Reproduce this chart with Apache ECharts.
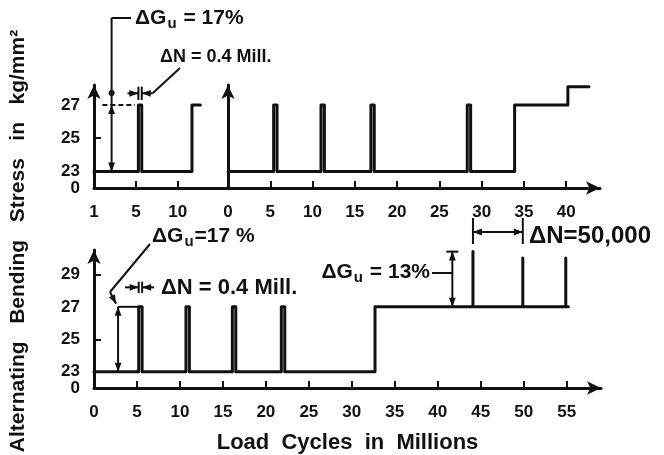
<!DOCTYPE html>
<html>
<head>
<meta charset="utf-8">
<script src="https://cdn.jsdelivr.net/npm/echarts@6/dist/echarts.min.js"></script>
<style>html,body{margin:0;background:#fff}#main{width:664px;height:455px}</style>
</head>
<body>
<div id="main"></div>
<script>
/* alternating bending stress vs load cycles, three test runs */

// data: stress steps (kg/mm2) against load cycles (millions)
const leftN = [0, 5.3, 5.3, 5.7, 5.7, 11.7, 11.7, 12.7];
const leftS = [23, 23, 27, 27, 23, 23, 27, 27];

const rightN = [0, 5.4, 5.4, 5.8, 5.8, 11.0, 11.0, 11.4, 11.4, 16.9, 16.9, 17.3, 17.3,
    28.3, 28.3, 28.7, 28.7, 33.9, 33.9, 40.2, 40.2, 42.7];
const rightS = [23, 23, 27, 27, 23, 23, 27, 27, 23, 23, 27, 27, 23,
    23, 27, 27, 23, 23, 27, 27, 28.1, 28.1];

const bottomN = [0, 5.2, 5.2, 5.6, 5.6, 10.7, 10.7, 11.1, 11.1, 16.1, 16.1, 16.5, 16.5,
    21.8, 21.8, 22.2, 22.2, 32.7, 32.7, 44.1, 44.1, 44.1, 49.9, 49.9, 49.9, 54.9, 54.9, 54.9, 55.2];
const bottomS = [23, 23, 27, 27, 23, 23, 27, 27, 23, 23, 27, 27, 23,
    23, 27, 27, 23, 23, 27, 27, 30.4, 27, 27, 30.0, 27, 27, 30.0, 27, 27];

// tick labels (the broken stress axis shows 0 at its foot, value 22 here)
const leftXVals = [0, 5, 10];
const leftXText = ['1', '5', '10'];
const rightXVals = [0, 5, 10, 15, 20, 25, 30, 35, 40];
const bottomXVals = [0, 5, 10, 15, 20, 25, 30, 35, 40, 45, 50, 55];
const topYVals = [23, 25, 27];
const bottomYVals = [23, 25, 27, 29];
const zeroVal = 22;
const zeroText = '0';

const ink = '#111';
const font = 'Liberation Sans';
const labelStyle = { color: ink, fontFamily: font, fontSize: 17, fontWeight: 'bold' };

const zip = (a, b) => a.map((v, i) => [v, b[i]]);

// 轴的通用设置
const makeAxis = (grid, min, max, opts) => ({
    type: 'value', gridIndex: grid, min, max,
    splitLine: { show: false },
    axisLine: {
        show: opts.line !== false,
        onZero: false,
        lineStyle: { color: ink, width: 3 },
        symbol: opts.arrow ? ['none', 'arrow'] : 'none',
        symbolSize: [10, 14]
    },
    axisTick: {
        show: !!opts.ticks, inside: true, length: 7,
        lineStyle: { color: ink, width: 2 },
        customValues: opts.ticks || []
    },
    axisLabel: {
        show: !!opts.vals, ...labelStyle, margin: opts.margin || 12,
        hideOverlap: false,
        padding: opts.pad || 0,
        customValues: opts.vals || [],
        formatter: v => opts.text ? opts.text[opts.vals.indexOf(v)] : String(v)
    }
});

// extra y axis that only carries the "0" at the foot of the broken axis
const zeroAxis = (grid, max) => Object.assign(
    makeAxis(grid, zeroVal, max, { line: false, vals: [zeroVal], text: [zeroText], margin: 14, pad: [5, 0, 0, 0] }),
    { position: 'left' }
);

const lineSeries = (i, n, s) => ({
    type: 'line', xAxisIndex: i, yAxisIndex: i, data: zip(n, s),
    symbol: 'none', silent: true, animation: false, clip: false,
    lineStyle: { color: ink, width: 3, join: 'round', cap: 'round' }
});

const option = {
    backgroundColor: '#fff',
    animation: false,
    grid: [
        { left: 94, top: 85, width: 134, height: 103 },
        { left: 228, top: 85, width: 372, height: 103 },
        { left: 94, top: 250, width: 507, height: 139 }
    ],
    xAxis: [
        makeAxis(0, 0, 16, { ticks: [5, 10], vals: leftXVals, text: leftXText, margin: 16 }),
        makeAxis(1, 0, 44, { ticks: rightXVals.slice(1), vals: rightXVals, arrow: true, margin: 16 }),
        Object.assign(makeAxis(2, 0, 59, { ticks: bottomXVals.slice(1), vals: bottomXVals, arrow: true, margin: 16 }), {
            name: 'Load  Cycles  in  Millions', nameLocation: 'middle', nameGap: 44,
            nameTextStyle: { color: ink, fontFamily: font, fontSize: 22, fontWeight: 'bold' }
        })
    ],
    yAxis: [
        makeAxis(0, zeroVal, 28.2, { ticks: [25], vals: topYVals, arrow: true, margin: 14 }),
        makeAxis(1, zeroVal, 28.2, { arrow: true }),
        makeAxis(2, zeroVal, 30.5, { ticks: [25, 29], vals: bottomYVals, arrow: true, margin: 14 }),
        zeroAxis(0, 28.2),
        zeroAxis(2, 30.5)
    ],
    series: [
        lineSeries(0, leftN, leftS),
        lineSeries(1, rightN, rightS),
        lineSeries(2, bottomN, bottomS)
    ]
};

const chart = echarts.init(document.getElementById('main'));
chart.setOption(option);

/* 标注: arrows and texts, placed through the axes */
const px = (g, p) => chart.convertToPixel({ gridIndex: g }, p);

const seg = (a, b, extra) => ({
    type: 'line', silent: true,
    shape: { x1: a[0], y1: a[1], x2: b[0], y2: b[1] },
    style: Object.assign({ stroke: ink, lineWidth: 2 }, extra || {})
});

// arrow head with its tip at `tip`, pointing away from `from`
const head = (tip, from, size = 9) => {
    const dx = tip[0] - from[0], dy = tip[1] - from[1];
    const len = Math.hypot(dx, dy) || 1;
    const ux = dx / len, uy = dy / len, w = size * 0.38;
    const bx = tip[0] - ux * size, by = tip[1] - uy * size;
    return {
        type: 'polygon', silent: true,
        shape: { points: [tip, [bx - uy * w, by + ux * w], [bx + uy * w, by - ux * w]] },
        style: { fill: ink }
    };
};

const arrow = (a, b) => [seg(a, b), head(b, a)];
const dblArrow = (a, b) => [seg(a, b), head(b, a), head(a, b)];

const richFor = size => ({
    m: { fontFamily: font, fontSize: size, fontWeight: 'bold', color: ink },
    s: { fontFamily: font, fontSize: Math.round(size * 0.7), fontWeight: 'bold', color: ink, padding: [11, 1, 0, 1] }
});
const label = (x, y, text, size, align = 'left') => ({
    type: 'text', x, y, silent: true,
    style: { text, rich: richFor(size), align, verticalAlign: 'middle', fill: ink }
});

let g = [];

// top-left: ΔGu = 17 %
const tl27 = px(0, [2.1, 27]), tl23 = px(0, [2.1, 23]);
g.push(...dblArrow(tl27, tl23));
g.push(seg(tl27, [tl27[0], 18]), seg([tl27[0], 18], [131, 18]));
g.push({ type: 'circle', silent: true, shape: { cx: tl27[0], cy: 93, r: 3 }, style: { fill: ink } });
g.push(seg(px(0, [1.0, 27]), px(0, [4.9, 27]), { lineDash: [5, 3] }));
g.push(label(135, 18, '{m|ΔG}{s|u}{m| = 17%}', 21));

// top-left: ΔN = 0.4 Mill.
const tn = 27.7;
g.push(...arrow(px(0, [4.0, tn]), px(0, [5.3, tn])));
g.push(...arrow(px(0, [7.0, tn]), px(0, [5.7, tn])));
g.push(seg(px(0, [5.3, tn - 0.4]), px(0, [5.3, tn + 0.4])));
g.push(seg(px(0, [5.7, tn - 0.4]), px(0, [5.7, tn + 0.4])));
g.push(seg(px(0, [7.0, tn]), [180, 68]));
g.push(label(160, 57, '{m|ΔN = 0.4 Mill.}', 18));

// bottom: ΔGu = 17 %
const b27 = px(2, [2.8, 27]), b23 = px(2, [2.8, 23]);
g.push(...dblArrow(b27, b23));
g.push(seg(b27, px(2, [5.2, 27])));
g.push(seg([150, 244], [110, 292]), ...arrow([110, 292], [b27[0] - 2, b27[1] - 3]));
g.push(label(152, 236, '{m|ΔG}{s|u}{m|=17 %}', 21));

// bottom: ΔN = 0.4 Mill.
const bn = 28.2;
g.push(...arrow(px(2, [3.6, bn]), px(2, [5.2, bn])));
g.push(...arrow(px(2, [7.0, bn]), px(2, [5.6, bn])));
g.push(seg(px(2, [5.2, bn - 0.35]), px(2, [5.2, bn + 0.35])));
g.push(seg(px(2, [5.6, bn - 0.35]), px(2, [5.6, bn + 0.35])));
g.push(label(161, 288, '{m|ΔN = 0.4 Mill.}', 22));

// bottom: ΔGu = 13 %
const gTop = px(2, [41.7, 30.4]), gBot = px(2, [41.7, 27]);
g.push(...dblArrow(gTop, gBot));
g.push(seg([gTop[0] - 6, gTop[1]], [gTop[0] + 6, gTop[1]]));
g.push(seg([432, 273], [gTop[0], 273]));
g.push(label(430, 272, '{m|ΔG}{s|u}{m| = 13%}', 21, 'right'));

// bottom: ΔN = 50,000
const e1 = px(2, [44.1, 30.4])[0], e2 = px(2, [49.9, 30.4])[0];
g.push(seg([e1, 218], [e1, 244]), seg([e2, 218], [e2, 244]));
g.push(...dblArrow([e1, 232], [e2, 232]));
g.push(label(529, 236, '{m|ΔN=50,000}', 24));

// stress axis title
g.push({
    type: 'text', x: 18, y: 241, rotation: Math.PI / 2, silent: true,
    style: {
        text: 'Alternating   Bending   Stress   in   kg/mm²',
        fontFamily: font, fontSize: 21, fontWeight: 'bold', fill: ink,
        align: 'center', verticalAlign: 'middle'
    }
});

chart.setOption({ graphic: g });
</script>
</body>
</html>
